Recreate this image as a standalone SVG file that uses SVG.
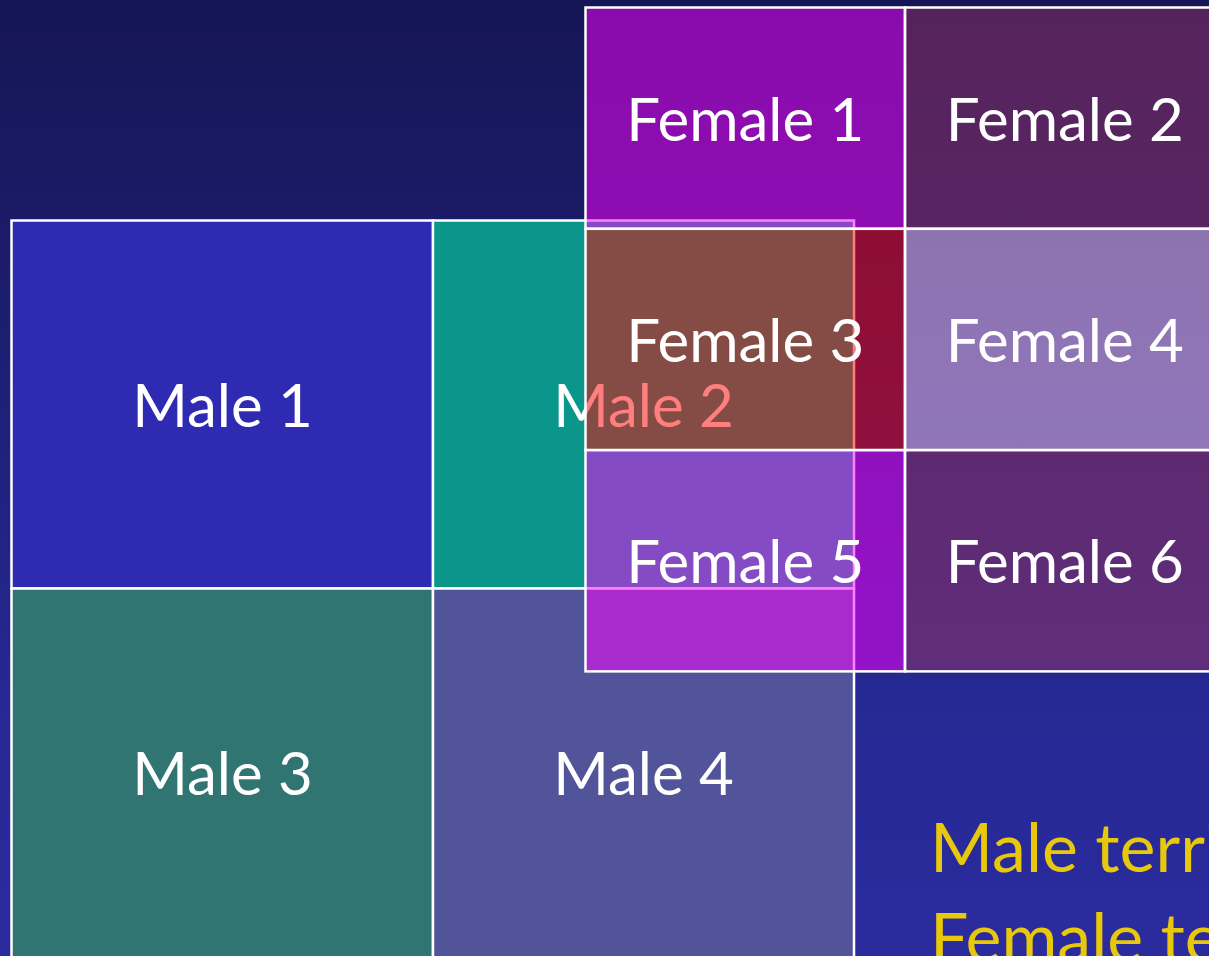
<svg xmlns="http://www.w3.org/2000/svg" width="1209" height="956" viewBox="0 0 1209 956">
  <defs>
    <linearGradient id="bg" x1="0" y1="0" x2="0" y2="1">
      <stop offset="0" stop-color="#151655"/>
      <stop offset="0.25" stop-color="#1b1b68"/>
      <stop offset="0.73" stop-color="#262893"/>
      <stop offset="1" stop-color="#2b2b9e"/>
    </linearGradient>
  </defs>
  <style>
    .cell { stroke: #ffffff; stroke-width: 2.5; }
    .fcell { stroke: #ffffff; stroke-width: 2.5; fill-opacity: 0.5; }
    .lbl { font-family: Lato, "Liberation Sans", sans-serif; font-size: 60px; fill: #ffffff; text-anchor: middle; }
    .note { font-family: Lato, "Liberation Sans", sans-serif; font-size: 68px; fill: #e8c80a; }
  </style>
  <rect x="0" y="0" width="1209" height="956" fill="url(#bg)"/>

  <g id="male1">
    <rect class="cell" x="11.5" y="220.5" width="421.5" height="368" fill="#2e2ab2"/>
    <text class="lbl" x="222.5" y="427">Male 1</text>
  </g>
  <g id="male2">
    <rect class="cell" x="433" y="220.5" width="421" height="368" fill="#0a968a"/>
    <text class="lbl" x="643.5" y="427">Male 2</text>
  </g>
  <g id="male3">
    <rect class="cell" x="11.5" y="588.5" width="421.5" height="369" fill="#317572"/>
    <text class="lbl" x="222.5" y="795">Male 3</text>
  </g>
  <g id="male4">
    <rect class="cell" x="433" y="588.5" width="421" height="369" fill="#52549a"/>
    <text class="lbl" x="643.5" y="795">Male 4</text>
  </g>

  <g id="female1">
    <rect class="fcell" x="585.5" y="7.5" width="319.5" height="221.3" fill="#ff00ff"/>
    <text class="lbl" x="745.3" y="140.7">Female 1</text>
  </g>
  <g id="female2">
    <rect class="fcell" x="905" y="7.5" width="319.5" height="221.3" fill="#963060"/>
    <text class="lbl" x="1064.8" y="140.7">Female 2</text>
  </g>
  <g id="female3">
    <rect class="fcell" x="585.5" y="228.8" width="319.5" height="221.3" fill="#ff0000"/>
    <text class="lbl" x="745.3" y="362">Female 3</text>
  </g>
  <g id="female4">
    <rect class="fcell" x="905" y="228.8" width="319.5" height="221.3" fill="#ffccf8"/>
    <text class="lbl" x="1064.8" y="362">Female 4</text>
  </g>
  <g id="female5">
    <rect class="fcell" x="585.5" y="450.1" width="319.5" height="221.3" fill="#ff00ff"/>
    <text class="lbl" x="745.3" y="583.3">Female 5</text>
  </g>
  <g id="female6">
    <rect class="fcell" x="905" y="450.1" width="319.5" height="221.3" fill="#993366"/>
    <text class="lbl" x="1064.8" y="583.3">Female 6</text>
  </g>

  <g id="legend">
    <text class="note" x="930" y="872">Male territories</text>
    <text class="note" x="930" y="962">Female territories</text>
  </g>
</svg>
